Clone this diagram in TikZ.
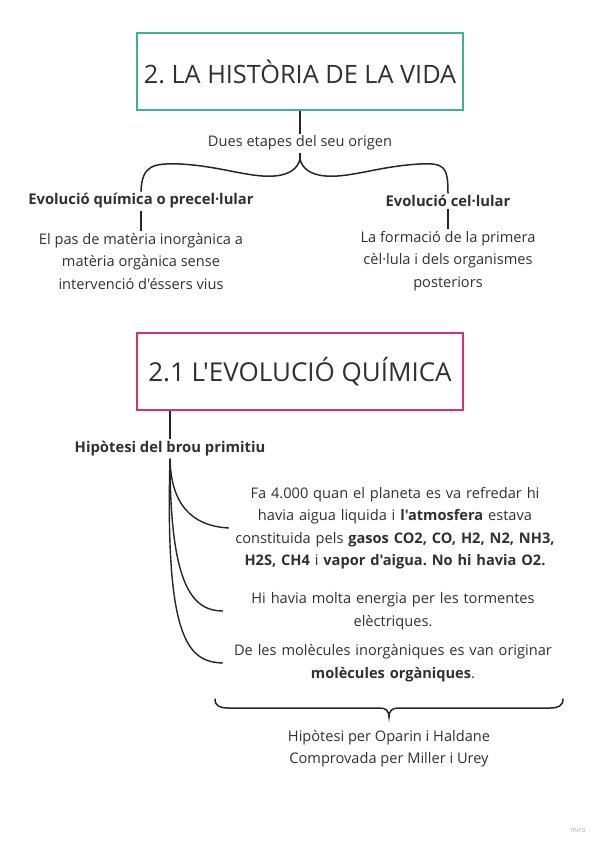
\documentclass[tikz,border=0pt]{standalone}
\usepackage{fontspec}
\setmainfont{Open Sans}
\newfontfamily\mapfont{Open Sans}
\usepackage{xcolor}
\usepackage{tikz}
\usetikzlibrary{positioning,calc}
\definecolor{mintgreen}{RGB}{62,178,152}
\definecolor{hotpink}{RGB}{214,46,128}
\definecolor{inkgray}{RGB}{48,48,48}
\definecolor{mirogray}{RGB}{175,175,175}
\frenchspacing

\begin{document}
\begin{tikzpicture}[
    x=1pt, y=-1pt,
    titlebox/.style={
        rectangle,
        draw=#1,
        line width=2pt,
        minimum width=326pt,
        minimum height=77pt,
        align=center,
        text=inkgray,
        font=\mapfont\fontsize{25.3}{30}\selectfont
    },
    stagename/.style={
        align=center,
        inner sep=2pt,
        text=inkgray,
        font=\mapfont\fontsize{14.8}{22.5}\selectfont\bfseries
    },
    bodytext/.style={
        align=center,
        inner sep=2pt,
        text=inkgray,
        font=\mapfont\fontsize{14.6}{22.5}\selectfont
    },
    facttext/.style={
        bodytext,
        text width=336pt
    },
    link/.style={
        line width=1.4pt,
        draw=black!85
    },
    bracket/.style={
        line width=1.5pt,
        draw=black!85,
        line cap=round
    }
]
\useasboundingbox (0,0) rectangle (600,848);

% first part: two stages
\node[titlebox=mintgreen] (history) at (300,71.5) {2. LA HISTÒRIA DE LA VIDA};
\node[bodytext] (stages) at (300,143) {Dues etapes del seu origen};

\node[stagename] (chem) at (141,201) {Evolució química o precel·lular};
\node[stagename] (cell) at (448,201) {Evolució cel·lular};

\node[bodytext, below=20pt of chem] (chemtxt) {El pas de matèria inorgànica a\\matèria orgànica sense\\intervenció d'éssers vius};
\node[bodytext, below=20pt of cell] (celltxt) {La formació de la primera\\cèl·lula i dels organismes\\posteriors};

\coordinate (toptip) at (300,159);
\draw[link] (history.south) -- (stages.north);
\draw[link] (stages.south) -- (toptip);
\draw[bracket] (chem.north) .. controls (142,166) and (152,163) .. (180,164)
    .. controls (220,166) and (250,178) .. (274,176)
    .. controls (290,175) and (298,168) .. (toptip)
    .. controls (302,168) and (310,175) .. (326,176)
    .. controls (350,178) and (380,166) .. (420,164)
    .. controls (444,163) and (448,166) .. (cell.north);
\draw[link] (chem.south) -- (chemtxt.north);
\draw[link] (cell.south) -- (celltxt.north);

% second part: chemical evolution
\node[titlebox=hotpink, font=\mapfont\fontsize{26}{30}\selectfont] (chemevo) at (300,371.5) {2.1 L'EVOLUCIÓ QUÍMICA};
\node[stagename] (soup) at (170,449) {Hipòtesi del brou primitiu};

\node[facttext] (fact1) at (395,528) {Fa 4.000 quan el planeta es va refredar hi\\havia aigua liquida i \textbf{l'atmosfera} estava\\constituida pels \textbf{gasos CO2, CO, H2, N2, NH3,}\\\textbf{H2S, CH4} i \textbf{vapor d'aigua. No hi havia O2.}};
\node[facttext] (fact2) at (393,611) {Hi havia molta energia per les tormentes\\elèctriques.};
\node[facttext] (fact3) at (393,663) {De les molècules inorgàniques es van originar\\\textbf{molècules orgàniques}.};

\draw[link] (chemevo.south -| soup.north) -- (soup.north);
\draw[link] (soup.south) .. controls (171,505) and (192,526) .. ($(fact1.west)+(4,0)$);
\draw[link] (soup.south) .. controls (170,585) and (192,611) .. (fact2.west);
\draw[link] (soup.south) .. controls (165,640) and (188,662) .. (fact3.west);

\coordinate (lowtip) at (389,717);
\draw[bracket] (215,699) .. controls (215,706) and (220,708) .. (228,708) -- (380,708)
    .. controls (386,708) and (389,711) .. (lowtip)
    .. controls (389,711) and (392,708) .. (398,708) -- (550,708)
    .. controls (558,708) and (563,706) .. (563,699);

\node[bodytext, below=11pt of lowtip] (authors) {Hipòtesi per Oparin i Haldane\\Comprovada per Miller i Urey};

\node[text=mirogray, font=\mapfont\fontsize{7}{8}\selectfont] (miro) at (578,830) {miro};

\end{tikzpicture}
\end{document}
